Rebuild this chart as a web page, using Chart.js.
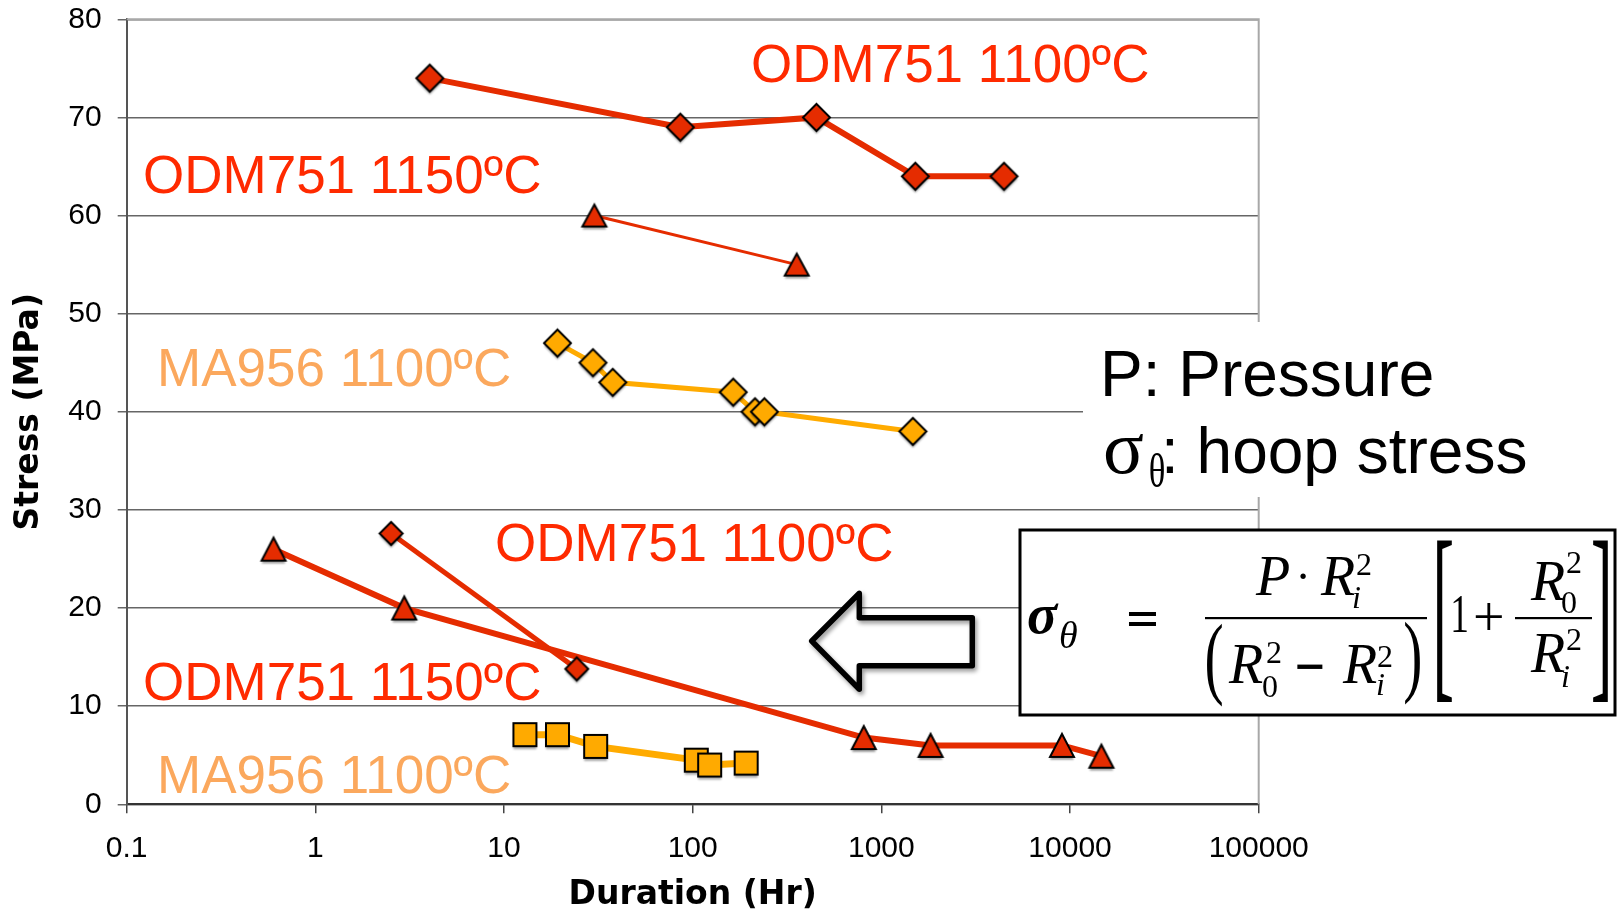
<!DOCTYPE html>
<html>
<head>
<meta charset="utf-8">
<script src="https://cdn.jsdelivr.net/npm/chart.js@4.4.1/dist/chart.umd.min.js"></script>
<style>
html,body{margin:0;padding:0;background:#fff;overflow:hidden}
canvas{display:block}
</style>
</head>
<body>
<canvas id="c" width="1623" height="911"></canvas>
<script>
// ---------- DATA ----------
const xTickValues = [0.1, 1, 10, 100, 1000, 10000, 100000];
const xTickLabels = ['0.1', '1', '10', '100', '1000', '10000', '100000'];
const yTickValues = [0, 10, 20, 30, 40, 50, 60, 70, 80];
const yTickLabels = ['0', '10', '20', '30', '40', '50', '60', '70', '80'];

// ODM751 1100ºC (high stress, diamonds)
const odm1100HighHours  = [4.04, 86, 453, 1514, 4470];
const odm1100HighStress = [74, 69, 70, 64, 64];
// ODM751 1150ºC (high stress, triangles)
const odm1150HighHours  = [30.1, 356];
const odm1150HighStress = [60, 55];
// MA956 1100ºC (high stress, diamonds)
const ma1100HighHours  = [19.2, 29.6, 37.7, 164, 214, 240, 1469];
const ma1100HighStress = [47, 45, 43, 42, 40, 40, 38];
// ODM751 1100ºC (low stress, diamonds)
const odm1100LowHours  = [2.52, 24.3];
const odm1100LowStress = [27.6, 13.8];
// ODM751 1150ºC (low stress, triangles)
const odm1150LowHours  = [0.6, 2.96, 807, 1824, 9060, 14660];
const odm1150LowStress = [26, 20, 6.8, 6, 6, 4.9];
// MA956 1100ºC (low stress, squares)
const ma1100LowHours  = [12.9, 19.2, 30.6, 104.5, 123, 192];
const ma1100LowStress = [7.1, 7.1, 5.9, 4.5, 4.0, 4.2];

const labelTexts = ['ODM751 1100ºC', 'ODM751 1150ºC', 'MA956 1100ºC'];

// ---------- STYLE ----------
const RED_LINE = '#e52c00';
const RED_FILL = '#e52c00';
const RED_TEXT = '#ff2a00';
const ORANGE_LINE = '#ffab00';
const ORANGE_FILL = '#ffaa00';
const ORANGE_TEXT = '#fba85d';

function makeMarker(shape, w, h, fill) {
  const pad = 8;
  const c = document.createElement('canvas');
  c.width = Math.round(w + pad * 2);
  c.height = Math.round(h + pad * 2);
  const g = c.getContext('2d');
  const cx = c.width / 2, cy = c.height / 2;
  const path = () => {
    g.beginPath();
    if (shape === 'diamond') {
      g.moveTo(cx, cy - h / 2); g.lineTo(cx + w / 2, cy); g.lineTo(cx, cy + h / 2); g.lineTo(cx - w / 2, cy);
    } else if (shape === 'triangle') {
      g.moveTo(cx, cy - h / 2); g.lineTo(cx + w / 2, cy + h / 2); g.lineTo(cx - w / 2, cy + h / 2);
    } else {
      g.rect(cx - w / 2, cy - h / 2, w, h);
    }
    g.closePath();
  };
  g.save();
  g.shadowColor = 'rgba(0,0,0,0.35)';
  g.shadowOffsetX = 0; g.shadowOffsetY = 3; g.shadowBlur = 2;
  path(); g.fillStyle = fill; g.fill();
  g.restore();
  path(); g.lineWidth = 2; g.strokeStyle = '#000'; g.lineJoin = 'miter'; g.stroke();
  return c;
}

const mkPts = (xs, ys) => xs.map((x, i) => ({ x: x, y: ys[i] }));

function ds(label, xs, ys, color, width, marker) {
  return {
    label: label,
    data: mkPts(xs, ys),
    borderColor: color,
    backgroundColor: color,
    borderWidth: width,
    pointStyle: marker,
    pointRadius: 12,
    pointHoverRadius: 12,
    tension: 0,
    fill: false
  };
}

const datasets = [
  ds(labelTexts[0], odm1100HighHours, odm1100HighStress, RED_LINE, 6, makeMarker('diamond', 27, 27, RED_FILL)),
  ds(labelTexts[1], odm1150HighHours, odm1150HighStress, RED_LINE, 3, makeMarker('triangle', 24, 22, RED_FILL)),
  ds(labelTexts[2], ma1100HighHours, ma1100HighStress, ORANGE_LINE, 5, makeMarker('diamond', 27, 27, ORANGE_FILL)),
  ds(labelTexts[0], odm1100LowHours, odm1100LowStress, RED_LINE, 5, makeMarker('diamond', 23, 23, RED_FILL)),
  ds(labelTexts[1], odm1150LowHours, odm1150LowStress, RED_LINE, 6, makeMarker('triangle', 24, 23, RED_FILL)),
  ds(labelTexts[2], ma1100LowHours, ma1100LowStress, ORANGE_LINE, 7, makeMarker('square', 23, 23, ORANGE_FILL))
];

// ---------- text helpers ----------
function inkText(ctx, text, font, color, inkLeft, baseline) {
  ctx.font = font; ctx.fillStyle = color;
  ctx.textAlign = 'left'; ctx.textBaseline = 'alphabetic';
  const m = ctx.measureText(text);
  ctx.fillText(text, inkLeft + m.actualBoundingBoxLeft, baseline);
}
function fitText(ctx, text, font, color, x0, y0, x1, y1) {
  ctx.font = font; ctx.fillStyle = color;
  ctx.textAlign = 'left'; ctx.textBaseline = 'alphabetic';
  const m = ctx.measureText(text);
  const iw = m.actualBoundingBoxLeft + m.actualBoundingBoxRight;
  const ih = m.actualBoundingBoxAscent + m.actualBoundingBoxDescent;
  ctx.save();
  ctx.translate(x0, y0);
  ctx.scale((x1 - x0) / iw, (y1 - y0) / ih);
  ctx.fillText(text, m.actualBoundingBoxLeft, m.actualBoundingBoxAscent);
  ctx.restore();
}

const frameBorder = {
  id: 'frameBorder',
  beforeDatasetsDraw(chart) {
    const { ctx, chartArea: a } = chart;
    ctx.save();
    ctx.strokeStyle = '#a8a8a8';
    ctx.lineWidth = 2;
    ctx.beginPath();
    ctx.moveTo(a.left, a.top); ctx.lineTo(a.right, a.top); ctx.lineTo(a.right, a.bottom);
    ctx.stroke();
    ctx.restore();
  }
};

const overlay = {
  id: 'overlay',
  afterDraw(chart) {
    const ctx = chart.ctx;
    ctx.save();
    const SANS = '"Liberation Sans", Arial, sans-serif';
    const SERIF = '"Liberation Serif", "Times New Roman", serif';

    // series labels
    const f = '53px ' + SANS;
    inkText(ctx, labelTexts[0], f, RED_TEXT, 753, 82);
    inkText(ctx, labelTexts[1], f, RED_TEXT, 145, 193);
    inkText(ctx, labelTexts[2], f, ORANGE_TEXT, 161, 386);
    inkText(ctx, labelTexts[0], f, RED_TEXT, 497, 561);
    inkText(ctx, labelTexts[1], f, RED_TEXT, 145, 700);
    inkText(ctx, labelTexts[2], f, ORANGE_TEXT, 161, 793);

    // arrow
    ctx.save();
    ctx.beginPath();
    ctx.moveTo(811.7, 641);
    ctx.lineTo(859.3, 593.3);
    ctx.lineTo(859.3, 617.7);
    ctx.lineTo(972.3, 617.7);
    ctx.lineTo(972.3, 665.7);
    ctx.lineTo(859.3, 665.7);
    ctx.lineTo(859.3, 689.3);
    ctx.closePath();
    ctx.fillStyle = '#fff';
    ctx.fill();
    ctx.shadowColor = 'rgba(0,0,0,0.4)';
    ctx.shadowOffsetX = 2; ctx.shadowOffsetY = 3; ctx.shadowBlur = 4;
    ctx.lineWidth = 5.5; ctx.lineJoin = 'round';
    ctx.strokeStyle = '#000';
    ctx.stroke();
    ctx.restore();

    // legend text box
    ctx.fillStyle = '#fff';
    ctx.fillRect(1083, 322, 540, 175);
    inkText(ctx, 'P: Pressure', '64px ' + SANS, '#000', 1105, 396);
    inkText(ctx, 'σ', '76px ' + SERIF, '#000', 1105, 473);
    fitText(ctx, 'θ', '52px ' + SERIF, '#000', 1150, 452, 1164, 488);
    inkText(ctx, ': hoop stress', '64px ' + SANS, '#000', 1166, 473);

    // formula box
    ctx.fillStyle = '#fff';
    ctx.fillRect(1020, 530, 595, 185);
    ctx.lineWidth = 3; ctx.strokeStyle = '#000';
    ctx.strokeRect(1020, 530, 595, 185);

    const IT = 'italic 56px ' + SERIF;
    const IT_S = 'italic 32px ' + SERIF;
    const UP_S = '32px ' + SERIF;
    const K = '#000';
    inkText(ctx, 'σ', 'italic bold 56px ' + SERIF, K, 1028, 633);
    inkText(ctx, 'θ', 'italic 38px ' + SERIF, K, 1060, 648);
    fitText(ctx, '=', 'bold 50px ' + SANS, K, 1129, 612, 1157, 626);
    // numerator
    inkText(ctx, 'P', IT, K, 1255, 595);
    fitText(ctx, '·', 'bold 56px ' + SERIF, K, 1300, 573, 1306, 579);
    inkText(ctx, 'R', IT, K, 1320, 595);
    inkText(ctx, '2', UP_S, K, 1357, 575);
    inkText(ctx, 'i', IT_S, K, 1353, 608);
    ctx.fillRect(1205, 617, 222, 2.2);
    // denominator
    fitText(ctx, '(', '96px ' + SERIF, K, 1207, 623, 1222, 707);
    inkText(ctx, 'R', IT, K, 1228, 683);
    inkText(ctx, '2', UP_S, K, 1267, 663);
    inkText(ctx, '0', UP_S, K, 1263, 697);
    fitText(ctx, '−', 'bold 48px ' + SANS, K, 1297, 664, 1323, 669);
    inkText(ctx, 'R', IT, K, 1342, 683);
    inkText(ctx, '2', UP_S, K, 1378, 667);
    inkText(ctx, 'i', IT_S, K, 1377, 695);
    fitText(ctx, ')', '96px ' + SERIF, K, 1405, 622, 1420, 705);
    // bracket part
    fitText(ctx, '[', '180px ' + SERIF, K, 1437, 540, 1452, 702);
    fitText(ctx, '1', '56px ' + SERIF, K, 1453, 595, 1467, 632);
    fitText(ctx, '+', '56px ' + SERIF, K, 1475, 602, 1502, 630);
    ctx.fillRect(1515, 617, 77, 2.2);
    inkText(ctx, 'R', IT, K, 1530, 600);
    inkText(ctx, '2', UP_S, K, 1567, 573);
    inkText(ctx, '0', UP_S, K, 1562, 613);
    inkText(ctx, 'R', IT, K, 1530, 672);
    inkText(ctx, '2', UP_S, K, 1567, 650);
    inkText(ctx, 'i', IT_S, K, 1562, 687);
    fitText(ctx, ']', '180px ' + SERIF, K, 1593, 540, 1608, 702);
    ctx.restore();
  }
};

const TICK_FONT = { family: '"Liberation Sans", Arial, sans-serif', size: 30 };

new Chart(document.getElementById('c'), {
  type: 'line',
  data: { datasets: datasets },
  plugins: [frameBorder, overlay],
  options: {
    responsive: false,
    animation: false,
    devicePixelRatio: 1,
    events: [],
    layout: { padding: { left: 0, top: 19.3, right: 364.3, bottom: 0 } },
    plugins: { legend: { display: false }, tooltip: { enabled: false } },
    scales: {
      x: {
        type: 'logarithmic',
        min: 0.1,
        max: 100000,
        afterBuildTicks: s => { s.ticks = xTickValues.map(v => ({ value: v })); },
        afterFit: s => { s.height = 106.7; s.paddingLeft = 0; s.paddingRight = 0; },
        ticks: {
          callback: (v, i) => xTickLabels[i],
          font: TICK_FONT,
          color: '#000',
          padding: 17,
          autoSkip: false,
          maxRotation: 0
        },
        grid: { drawOnChartArea: false, drawTicks: true, tickLength: 9, color: '#444', lineWidth: 1.5 },
        border: { color: '#333', width: 2 },
        title: { display: true, text: 'Duration (Hr)', font: { family: '"DejaVu Sans", Verdana, sans-serif', size: 33, weight: 'bold', lineHeight: 0.96 }, color: '#000', padding: { top: 0, bottom: 0 } }
      },
      y: {
        type: 'linear',
        min: 0,
        max: 80,
        afterBuildTicks: s => { s.ticks = yTickValues.map(v => ({ value: v })); },
        afterFit: s => { s.width = 126.7; s.paddingTop = 0; s.paddingBottom = 0; },
        ticks: {
          callback: (v, i) => yTickLabels[i],
          font: TICK_FONT,
          color: '#000',
          padding: 16
        },
        grid: { color: '#666', lineWidth: 1.5, tickLength: 9, drawTicks: true },
        border: { color: '#555', width: 2 },
        title: { display: true, text: 'Stress (MPa)', font: { family: '"DejaVu Sans", Verdana, sans-serif', size: 33, weight: 'bold' }, color: '#000', padding: { top: 10, bottom: 0 } }
      }
    }
  }
});
</script>
</body>
</html>
